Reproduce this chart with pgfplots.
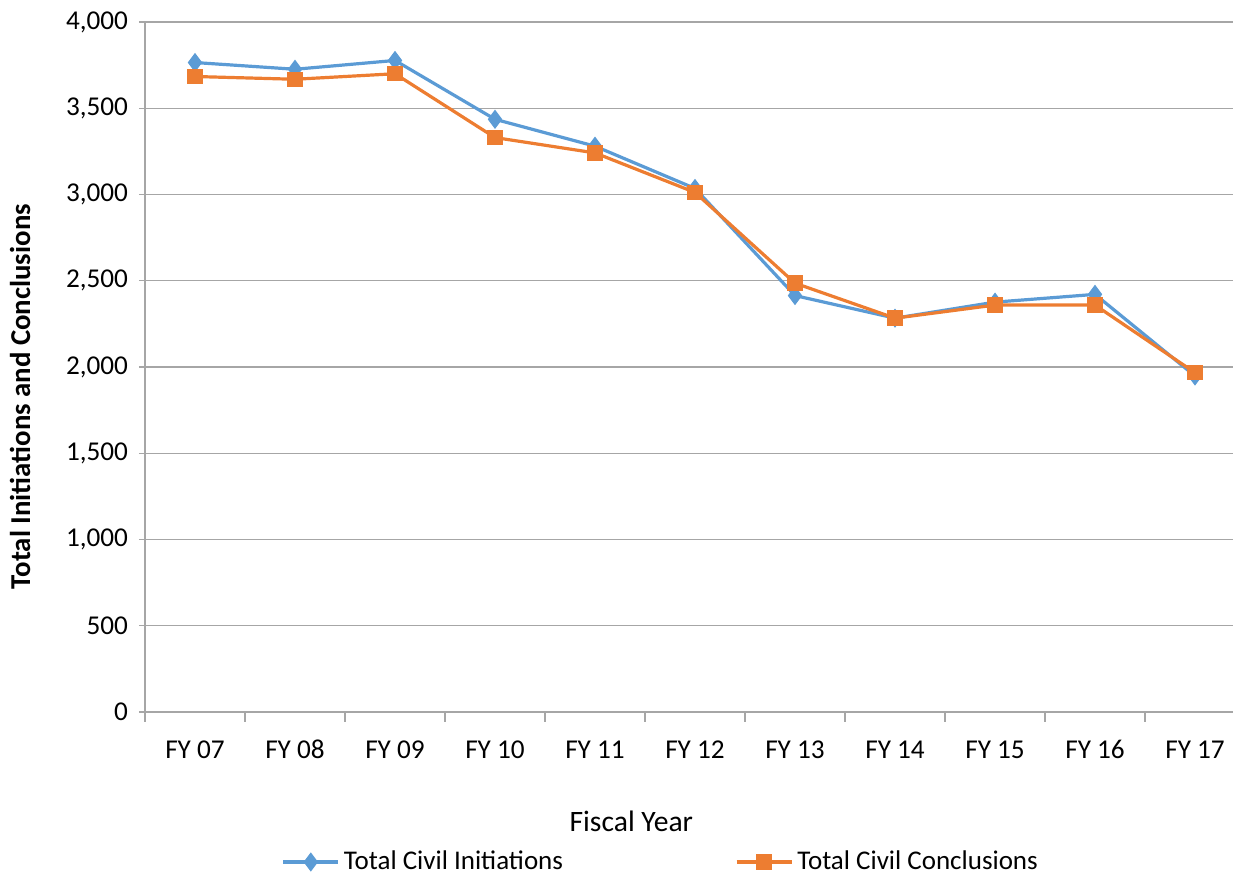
\documentclass[border=0pt]{standalone}
\usepackage{pgfplots}
\pgfplotsset{compat=1.18}
\usepackage{fontspec}
\setmainfont{Carlito}

\definecolor{initblue}{HTML}{5B9BD5}
\definecolor{concorange}{HTML}{ED7D31}
\definecolor{gridgray}{HTML}{A6A6A6}

\begin{document}
\begin{tikzpicture}
\useasboundingbox (-72.5pt,-82pt) rectangle (544pt,356pt);
\begin{axis}[
    at={(0,0)}, anchor=south west,
    scale only axis,
    width=544pt, height=345pt,
    xmin=-0.5, xmax=10.38,
    ymin=0, ymax=4000,
    ytick={0,500,...,4000},
    xtick={0,...,10},
    xticklabels={FY 07,FY 08,FY 09,FY 10,FY 11,FY 12,FY 13,FY 14,FY 15,FY 16,FY 17},
    minor xtick={-0.5,0.5,...,10.5},
    axis lines*=left,
    axis line style={gridgray, line width=0.6pt},
    tick align=outside,
    major tick length=3pt,
    minor tick length=5pt,
    major x tick style={draw=none},
    minor x tick style={gridgray, line width=0.6pt},
    major y tick style={gridgray, line width=0.6pt},
    ymajorgrids,
    major grid style={gridgray, line width=0.6pt},
    tick label style={font=\fontsize{13.6}{16}\selectfont},
    xticklabel style={yshift=-9pt, text height=1.6ex, text depth=0.25ex},
    yticklabel style={xshift=-2pt},
    /pgf/number format/1000 sep={,},
    /pgf/number format/assume math mode=true,
    xlabel={Fiscal Year},
    xlabel style={at={(axis description cs:0.447,-0.159)}, anchor=center, font=\fontsize{14.8}{17}\selectfont},
    ylabel={\textbf{Total Initiations and Conclusions}},
    ylabel style={at={(axis description cs:-0.1149,0.457)}, anchor=center, font=\fontsize{14.4}{17}\selectfont},
    legend columns=2,
    legend style={at={(axis description cs:0.475,-0.2174)}, anchor=center, draw=none,
        font=\fontsize{13.5}{16}\selectfont,
        /tikz/every even column/.append style={column sep=84pt}},
    legend image code/.code={\draw[mark repeat=2,mark phase=2] plot coordinates {(0pt,0pt) (13.75pt,0pt) (27.5pt,0pt)};},
]
\addplot[initblue, line width=1.6pt, mark=diamond*, mark size=4.4pt, mark options={solid, fill=initblue, line width=0.5pt}]
coordinates {
    (0,3765) (1,3726) (2,3777) (3,3436) (4,3280) (5,3035)
    (6,2414) (7,2283) (8,2376) (9,2421) (10,1948)
};
\addplot[concorange, line width=1.6pt, mark=square*, mark size=3.6pt, mark options={solid, fill=concorange, line width=0.5pt}]
coordinates {
    (0,3684) (1,3668) (2,3700) (3,3330) (4,3241) (5,3012)
    (6,2486) (7,2283) (8,2359) (9,2359) (10,1967)
};
\legend{Total Civil Initiations, Total Civil Conclusions}
\end{axis}
\end{tikzpicture}
\end{document}
